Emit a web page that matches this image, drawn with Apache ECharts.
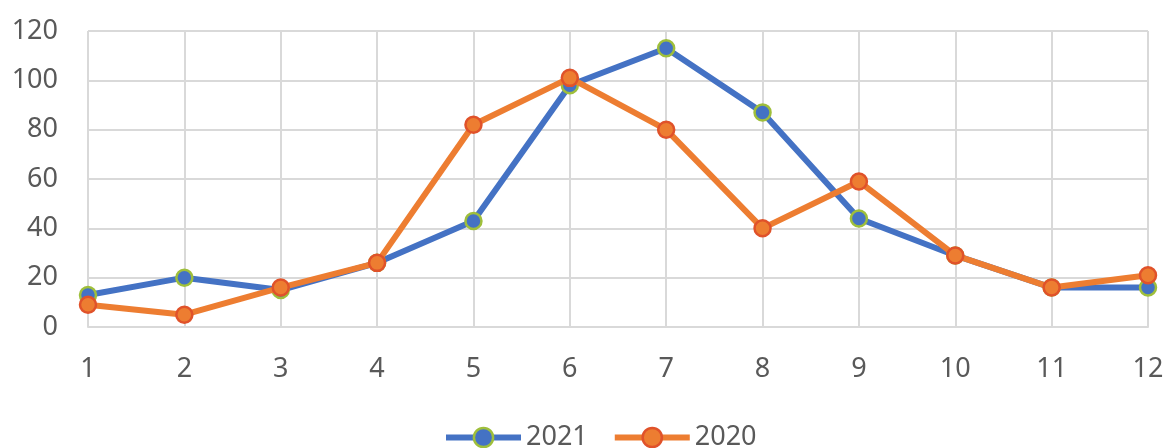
<!DOCTYPE html>
<html>
<head>
<meta charset="utf-8">
<script src="https://cdn.jsdelivr.net/npm/echarts@6/dist/echarts.min.js"></script>
<style>
  html, body { margin: 0; padding: 0; background: #ffffff; }
  #chart { width: 1167px; height: 448px; }
</style>
</head>
<body>
<div id="chart"></div>
<script>
// Month numbers along the x axis
const months = ['1', '2', '3', '4', '5', '6', '7', '8', '9', '10', '11', '12'];
// Monthly values per year
const values2021 = [13, 20, 15, 26, 43, 98, 113, 87, 44, 29, 16, 16];
const values2020 = [9, 5, 16, 26, 82, 101, 80, 40, 59, 29, 16, 21];
const seriesNames = ['2021', '2020'];

const labelFont = { fontFamily: 'Noto Sans', fontSize: 27, color: '#595959' };
const gridColor = '#d9d9d9';

const chart = echarts.init(document.getElementById('chart'), null, { renderer: 'canvas' });

chart.setOption({
  animation: false,
  backgroundColor: '#ffffff',
  grid: { left: 88, right: 19, top: 31, bottom: 121, containLabel: false },
  legend: {
    data: seriesNames,
    top: 424,
    left: 443,
    padding: 0,
    itemWidth: 75,
    itemHeight: 24,
    itemGap: 24,
    lineStyle: { width: 6 },
    itemStyle: { borderWidth: 2.5 },
    textStyle: Object.assign({}, labelFont, { padding: [0, 0, 0, 0] })
  },
  xAxis: {
    type: 'category',
    data: months,
    boundaryGap: false,
    axisLine: { show: true, lineStyle: { color: gridColor, width: 2 } },
    axisTick: { show: false },
    axisLabel: Object.assign({}, labelFont, { margin: 29 }),
    splitLine: { show: true, lineStyle: { color: gridColor, width: 2 } }
  },
  yAxis: {
    type: 'value',
    min: 0,
    max: 120,
    interval: 20,
    axisLine: { show: false },
    axisTick: { show: false },
    axisLabel: Object.assign({}, labelFont, { margin: 30 }),
    splitLine: { show: true, lineStyle: { color: gridColor, width: 2 } }
  },
  series: [
    {
      name: seriesNames[0],
      type: 'line',
      data: values2021,
      z: 2,
      symbol: 'circle',
      symbolSize: 16,
      lineStyle: { color: '#4472c4', width: 6 },
      itemStyle: { color: '#4472c4', borderColor: '#9fbf3b', borderWidth: 2.5 }
    },
    {
      name: seriesNames[1],
      type: 'line',
      data: values2020,
      z: 3,
      symbol: 'circle',
      symbolSize: 16,
      lineStyle: { color: '#ed7d31', width: 6 },
      itemStyle: { color: '#ed7d31', borderColor: '#e0522a', borderWidth: 2.5 }
    }
  ]
});
</script>
</body>
</html>
